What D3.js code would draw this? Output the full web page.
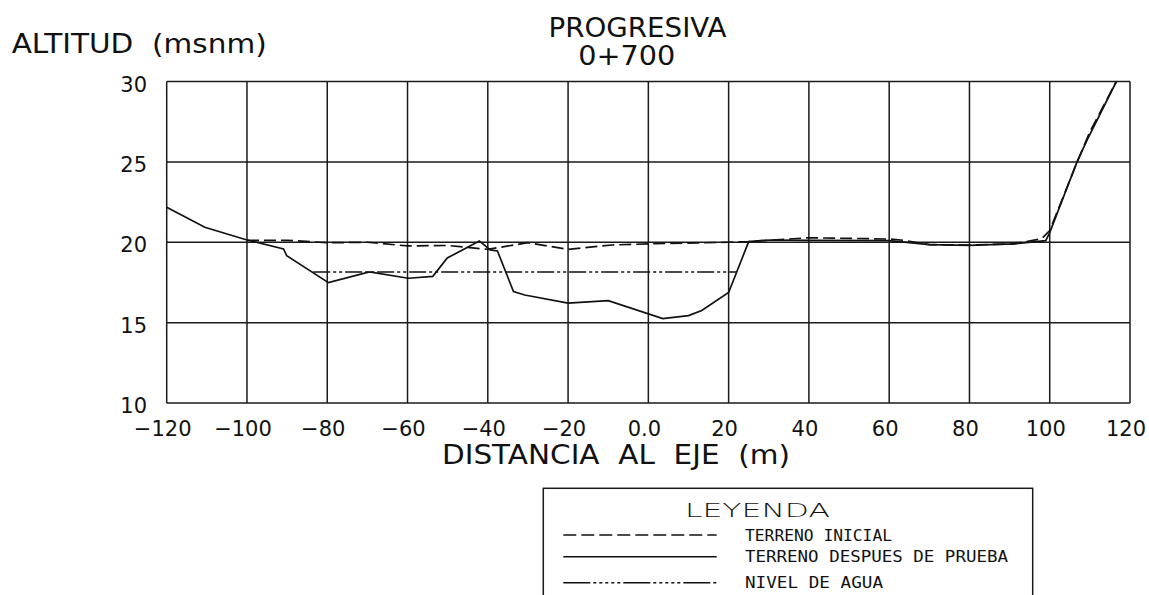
<!DOCTYPE html>
<html>
<head>
<meta charset="utf-8">
<script src="https://cdn.jsdelivr.net/npm/d3@7"></script>
<style>
  body { margin: 0; background: #fff; }
  svg { display: block; }
  text { fill: #111; white-space: pre; }
</style>
</head>
<body>
<div id="chart"></div>
<script>
// ejes
const xTicks = [-120, -100, -80, -60, -40, -20, 0, 20, 40, 60, 80, 100, 120];
const xTickLabels = ["\u2212120", "\u2212100", "\u221280", "\u221260", "\u221240", "\u221220", "0.0", "20", "40", "60", "80", "100", "120"];
const yTicks = [10, 15, 20, 25, 30];

// terreno despues de prueba (linea continua)
const despuesX = [-120, -110.5, -100, -90.9, -90.1, -79.7, -69.5, -59.8, -53.7, -50.1, -42.1, -39.4, -37.6, -33.6, -30.8, -20, -10, 3.6, 10, 13.3, 20, 25, 30.4, 40, 60, 70, 80, 90.9, 99, 100, 106.8, 109.3, 116.6];
const despuesY = [22.18, 20.93, 20.14, 19.58, 19.17, 17.49, 18.15, 17.76, 17.88, 19.02, 20.08, 19.52, 19.46, 16.93, 16.72, 16.21, 16.37, 15.25, 15.44, 15.75, 16.87, 20.04, 20.14, 20.12, 20.1, 19.85, 19.8, 19.9, 20.1, 20.6, 25.0, 26.35, 30.0];

// terreno inicial (discontinua)
const inicialX = [-100, -90, -80, -70, -60, -50, -40, -30, -20, -9, 0, 20, 25, 40, 60, 63.7, 70, 80, 91, 98, 100, 106.8, 110, 116.6];
const inicialY = [20.12, 20.12, 19.97, 20.0, 19.77, 19.8, 19.56, 19.97, 19.56, 19.83, 19.9, 20.0, 20.04, 20.28, 20.2, 20.12, 19.85, 19.83, 19.9, 20.22, 20.73, 24.97, 26.87, 30.0];

// nivel de agua
const aguaX = [-83.5, 21.9];
const aguaY = [18.15, 18.15];

const legendNames = ["TERRENO INICIAL", "TERRENO DESPUES DE PRUEBA", "NIVEL DE AGUA"];

const width = 1149, height = 595;
const x = d3.scaleLinear().domain([-120, 120]).range([166.7, 1130]);
const y = d3.scaleLinear().domain([10, 30]).range([403, 81.5]);

const font = '"DejaVu Sans", sans-serif';
const mono = '"DejaVu Sans Mono", monospace';

const svg = d3.select('#chart').append('svg')
  .attr('width', width)
  .attr('height', height)
  .style('font-family', font);

// cuadricula
svg.append('g').selectAll('line')
  .data(xTicks)
  .enter().append('line')
  .attr('x1', d => x(d)).attr('x2', d => x(d))
  .attr('y1', y(30)).attr('y2', y(10))
  .attr('stroke', '#1a1a1a').attr('stroke-width', 1.5);

svg.append('g').selectAll('line')
  .data(yTicks)
  .enter().append('line')
  .attr('x1', x(-120)).attr('x2', x(120))
  .attr('y1', d => y(d)).attr('y2', d => y(d))
  .attr('stroke', '#1a1a1a').attr('stroke-width', 1.5);

// etiquetas
svg.append('g').selectAll('text')
  .data(yTicks)
  .enter().append('text')
  .attr('x', 147)
  .attr('y', d => y(d) + 10)
  .attr('text-anchor', 'end')
  .attr('font-size', 21)
  .text(d => d);

svg.append('g').selectAll('text')
  .data(xTicks)
  .enter().append('text')
  .attr('x', d => x(d) - 4)
  .attr('y', 436)
  .attr('text-anchor', 'middle')
  .attr('font-size', 21)
  .text((d, i) => xTickLabels[i]);

svg.append('text')
  .attr('x', 11.7).attr('y', 52.7)
  .attr('font-size', 27)
  .attr('textLength', 255).attr('lengthAdjust', 'spacingAndGlyphs')
  .text('ALTITUD  (msnm)');

svg.append('text')
  .attr('x', 637.5).attr('y', 36.7)
  .attr('text-anchor', 'middle')
  .attr('font-size', 27)
  .attr('textLength', 178).attr('lengthAdjust', 'spacingAndGlyphs')
  .text('PROGRESIVA');

svg.append('text')
  .attr('x', 626.7).attr('y', 65)
  .attr('text-anchor', 'middle')
  .attr('font-size', 27)
  .attr('textLength', 97).attr('lengthAdjust', 'spacingAndGlyphs')
  .text('0+700');

svg.append('text')
  .attr('x', 616).attr('y', 464)
  .attr('text-anchor', 'middle')
  .attr('font-size', 26)
  .attr('textLength', 348).attr('lengthAdjust', 'spacingAndGlyphs')
  .text('DISTANCIA  AL  EJE  (m)');

// perfiles
const line = d3.line().x(d => x(d[0])).y(d => y(d[1]));

svg.append('path')
  .datum(d3.zip(aguaX, aguaY))
  .attr('d', line)
  .attr('fill', 'none').attr('stroke', '#111').attr('stroke-width', 1.3)
  .attr('stroke-dasharray', '17,3,3,3,3,3');

svg.append('path')
  .datum(d3.zip(inicialX, inicialY))
  .attr('d', line)
  .attr('fill', 'none').attr('stroke', '#111').attr('stroke-width', 1.7)
  .attr('stroke-dasharray', '12,5');

svg.append('path')
  .datum(d3.zip(despuesX, despuesY))
  .attr('d', line)
  .attr('fill', 'none').attr('stroke', '#111').attr('stroke-width', 1.7);

// leyenda
const legend = svg.append('g');
legend.append('rect')
  .attr('x', 543.3).attr('y', 488.3)
  .attr('width', 489.4).attr('height', 120)
  .attr('fill', 'none').attr('stroke', '#1a1a1a').attr('stroke-width', 1.5);

legend.append('text')
  .attr('x', 757.5).attr('y', 516.7)
  .attr('text-anchor', 'middle')
  .attr('font-size', 20).attr('font-weight', 200)
  .attr('textLength', 145).attr('lengthAdjust', 'spacingAndGlyphs')
  .text('LEYENDA');

const rowY = [535, 556.7, 582.7];
const rowDash = ['13,5', null, '27,3,3,3,3,3,3,3,3,3,3,3'];
const rowLen = [147, 263, 138];

legend.selectAll('.row')
  .data(legendNames)
  .enter().append('g')
  .attr('class', 'row')
  .each(function (d, i) {
    const g = d3.select(this);
    g.append('line')
      .attr('x1', 563.3).attr('x2', 716.7)
      .attr('y1', rowY[i]).attr('y2', rowY[i])
      .attr('stroke', '#111').attr('stroke-width', 1.5)
      .attr('stroke-dasharray', rowDash[i]);
    g.append('text')
      .attr('x', 745).attr('y', rowY[i] + 5.7)
      .style('font-family', mono)
      .attr('font-size', 15)
      .attr('textLength', rowLen[i]).attr('lengthAdjust', 'spacingAndGlyphs')
      .text(d);
  });
</script>
</body>
</html>
